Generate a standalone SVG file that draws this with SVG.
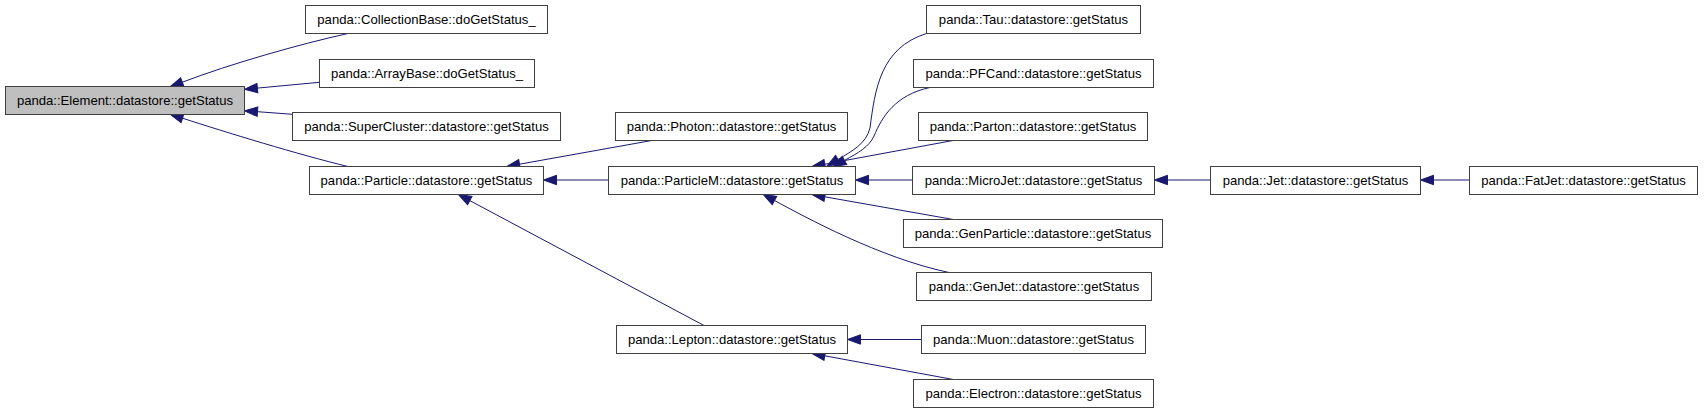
<svg xmlns="http://www.w3.org/2000/svg" width="1704" height="413" viewBox="0 0 1704 413">
<style>
.n rect{fill:#ffffff;stroke:#404040;stroke-width:1}
.n.hl rect{fill:#bfbfbf}
.n text{font-family:"Liberation Sans",Arial,Helvetica,sans-serif;font-size:13.1px;fill:#000;text-anchor:middle}
.e path{fill:none;stroke:#191970;stroke-width:1;marker-start:url(#arr)}
</style>
<defs>
<marker id="arr" markerUnits="userSpaceOnUse" viewBox="0 0 13 10" markerWidth="13" markerHeight="10" refX="0" refY="5" orient="auto-start-reverse" overflow="visible">
<path d="M0,0.3 L13,5 L0,9.7 z" fill="#191970" stroke="#191970" stroke-width="1"/>
</marker>
</defs>
<rect width="1704" height="413" fill="#ffffff"/>
<g id="edges" class="e">
<path d="M182.3,82.2 C230,64 300,44 348,33.5"/>
<path d="M257.4,88.1 L319.5,82.3"/>
<path d="M257.5,111.7 L292.5,114.3"/>
<path d="M182.5,118.2 C225,132 300,155 348,166.5"/>
<path d="M519.5,164.2 L651.7,140.5"/>
<path d="M556.5,180 L608.5,180"/>
<path d="M469.8,200.6 L704,325.5"/>
<path d="M838,159.5 C852,151 866,144 870,128 C875,90 880,48 926.5,33.5"/>
<path d="M844.5,160.4 C858,153 869,147 874,136 C882,117 895,95 930,87.5"/>
<path d="M824.8,164.2 L953,140.5"/>
<path d="M868.5,180 L912.5,180"/>
<path d="M824.8,196.8 L953.3,219.5"/>
<path d="M774.5,200.5 C805,217 880,258 949,272.5"/>
<path d="M860.5,339.5 L921.5,339.5"/>
<path d="M824.8,355.8 L953.3,379.5"/>
<path d="M1167.5,180 L1210.5,180"/>
<path d="M1433.5,180 L1469.5,180"/>
</g>
<g id="element" class="n hl"><rect x="5.5" y="86.5" width="239" height="28"/><text x="125" y="104.5">panda::Element::datastore::getStatus</text></g>
<g id="collectionbase" class="n"><rect x="305.5" y="5.5" width="242" height="28"/><text x="426.5" y="23.5">panda::CollectionBase::doGetStatus_</text></g>
<g id="arraybase" class="n"><rect x="319.5" y="59.5" width="215" height="28"/><text x="427" y="77.5">panda::ArrayBase::doGetStatus_</text></g>
<g id="supercluster" class="n"><rect x="292.5" y="112.5" width="268" height="28"/><text x="426.5" y="130.5">panda::SuperCluster::datastore::getStatus</text></g>
<g id="particle" class="n"><rect x="309.5" y="166.5" width="234" height="28"/><text x="426.5" y="184.5">panda::Particle::datastore::getStatus</text></g>
<g id="photon" class="n"><rect x="615.5" y="112.5" width="232" height="28"/><text x="731.5" y="130.5">panda::Photon::datastore::getStatus</text></g>
<g id="particlem" class="n"><rect x="608.5" y="166.5" width="247" height="28"/><text x="732" y="184.5">panda::ParticleM::datastore::getStatus</text></g>
<g id="lepton" class="n"><rect x="616.5" y="325.5" width="231" height="28"/><text x="732" y="343.5">panda::Lepton::datastore::getStatus</text></g>
<g id="tau" class="n"><rect x="926.5" y="5.5" width="214" height="28"/><text x="1033.5" y="23.5">panda::Tau::datastore::getStatus</text></g>
<g id="pfcand" class="n"><rect x="913.5" y="59.5" width="240" height="28"/><text x="1033.5" y="77.5">panda::PFCand::datastore::getStatus</text></g>
<g id="parton" class="n"><rect x="918.5" y="112.5" width="229" height="28"/><text x="1033" y="130.5">panda::Parton::datastore::getStatus</text></g>
<g id="microjet" class="n"><rect x="912.5" y="166.5" width="242" height="28"/><text x="1033.5" y="184.5">panda::MicroJet::datastore::getStatus</text></g>
<g id="genparticle" class="n"><rect x="903.5" y="219.5" width="259" height="28"/><text x="1033" y="237.5">panda::GenParticle::datastore::getStatus</text></g>
<g id="genjet" class="n"><rect x="916.5" y="272.5" width="235" height="28"/><text x="1034" y="290.5">panda::GenJet::datastore::getStatus</text></g>
<g id="muon" class="n"><rect x="921.5" y="325.5" width="224" height="28"/><text x="1033.5" y="343.5">panda::Muon::datastore::getStatus</text></g>
<g id="electron" class="n"><rect x="913.5" y="379.5" width="240" height="28"/><text x="1033.5" y="397.5">panda::Electron::datastore::getStatus</text></g>
<g id="jet" class="n"><rect x="1210.5" y="166.5" width="210" height="28"/><text x="1315.5" y="184.5">panda::Jet::datastore::getStatus</text></g>
<g id="fatjet" class="n"><rect x="1469.5" y="166.5" width="228" height="28"/><text x="1583.5" y="184.5">panda::FatJet::datastore::getStatus</text></g>
</svg>
